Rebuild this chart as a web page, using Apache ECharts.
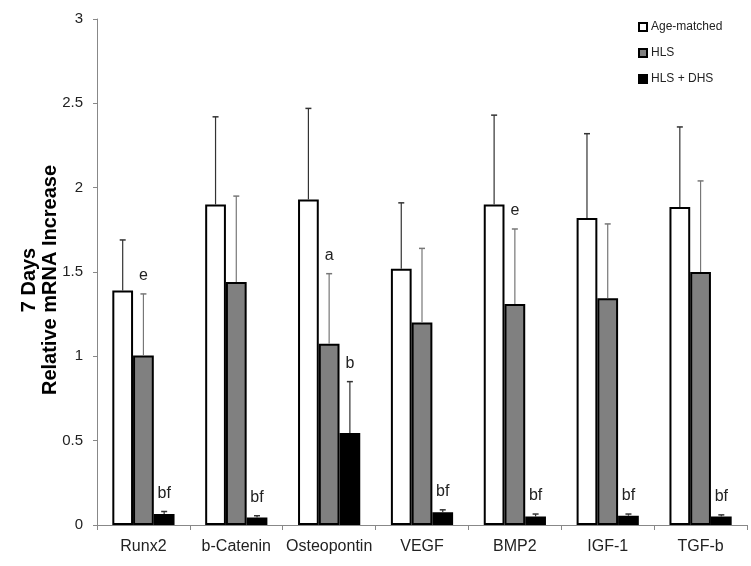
<!DOCTYPE html>
<html><head><meta charset="utf-8">
<script src="https://cdn.jsdelivr.net/npm/echarts@6/dist/echarts.min.js"></script>
<style>html,body{margin:0;padding:0;background:#fff}#c{width:751px;height:566px}</style>
</head><body><div id="c"></div>
<script>
var categories = ['Runx2','b-Catenin','Osteopontin','VEGF','BMP2','IGF-1','TGF-b'];
var seriesNames = ['Age-matched','HLS','HLS + DHS'];
var ageMatched = [1.39, 1.90, 1.93, 1.52, 1.90, 1.82, 1.885];
var ageMatchedErr = [0.30, 0.52, 0.54, 0.39, 0.53, 0.50, 0.475];
var hls = [1.005, 1.44, 1.075, 1.20, 1.31, 1.345, 1.50];
var hlsErr = [0.365, 0.51, 0.415, 0.44, 0.445, 0.44, 0.54];
var hlsDhs = [0.065, 0.045, 0.545, 0.075, 0.05, 0.055, 0.05];
var hlsDhsErr = [0.015, 0.01, 0.305, 0.015, 0.015, 0.01, 0.01];
var ageMatchedNotes = ['', '', '', '', '', '', ''];
var hlsNotes = ['e', '', 'a', '', 'e', '', ''];
var hlsDhsNotes = ['bf', 'bf', 'b', 'bf', 'bf', 'bf', 'bf'];
var yTicks = [0, 0.5, 1, 1.5, 2, 2.5, 3];

var chart = echarts.init(document.getElementById('c'));
var FONT = 'Liberation Sans, Arial, sans-serif';
var fills = ['#ffffff', '#808080', '#000000'];
var errColors = ['#333333', '#777777', '#333333'];
var vals = [ageMatched, hls, hlsDhs];
var errs = [ageMatchedErr, hlsErr, hlsDhsErr];
var notes = [ageMatchedNotes, hlsNotes, hlsDhsNotes];
var catGap = 0.33;

function errSeries(k) {
  var data = categories.map(function (c, i) { return [i, vals[k][i], vals[k][i] + errs[k][i]]; });
  return {
    type: 'custom', name: 'err' + k, z: 5, silent: true,
    data: data,
    renderItem: function (params, api) {
      var i = api.value(0);
      var base = api.coord([i, api.value(1)]);
      var top = api.coord([i, api.value(2)]);
      var cw = api.size([1, 0])[0];
      var bw = cw * (1 - catGap) / 3;
      var x = base[0] + (k - 1) * bw;
      var children = [
        { type: 'line', shape: { x1: x, y1: base[1], x2: x, y2: top[1] }, style: { stroke: errColors[k], lineWidth: 1.2 } },
        { type: 'line', shape: { x1: x - 3, y1: top[1], x2: x + 3, y2: top[1] }, style: { stroke: errColors[k], lineWidth: 1.5 } }
      ];
      var note = notes[k][i];
      if (note) {
        children.push({ type: 'text', style: { text: note, x: x, y: top[1] - 18, align: 'center', verticalAlign: 'middle', font: '16px ' + FONT, fill: '#222' } });
      }
      return { type: 'group', children: children };
    }
  };
}

var series = [];
for (var k = 0; k < 3; k++) {
  series.push({
    type: 'bar', name: seriesNames[k], data: vals[k],
    barGap: '0%', barCategoryGap: '33%',
    itemStyle: { color: fills[k], borderColor: '#000', borderWidth: 2 },
    emphasis: { disabled: true }
  });
}
for (var k2 = 0; k2 < 3; k2++) series.push(errSeries(k2));

chart.setOption({
  animation: false,
  backgroundColor: '#fff',
  grid: { left: 97, right: 4, top: 19, bottom: 41, containLabel: false, outerBoundsMode: 'none' },
  legend: {
    data: seriesNames, orient: 'vertical', left: 633, top: 16,
    itemWidth: 8, itemHeight: 8, itemGap: 14, icon: 'rect',
    textStyle: { fontFamily: FONT, fontSize: 12, color: '#222', padding: [0, 0, 0, -1] }
  },
  xAxis: {
    type: 'category', data: categories,
    axisLine: { lineStyle: { color: '#888', width: 1 } },
    axisTick: { show: true, length: 5, lineStyle: { color: '#888' } },
    axisLabel: { fontFamily: FONT, fontSize: 16, color: '#222', margin: 14, interval: 0 }
  },
  yAxis: {
    type: 'value', min: 0, max: 3, interval: 0.5,
    name: '7 Days\nRelative mRNA Increase', nameLocation: 'middle', nameGap: 36, nameRotate: 90,
    nameMoveOverlap: false,
    nameTextStyle: { fontFamily: FONT, fontSize: 20, fontWeight: 'bold', color: '#000', lineHeight: 21, padding: [0, 16, 0, 0] },
    splitLine: { show: false },
    axisLine: { show: true, lineStyle: { color: '#888', width: 1 } },
    axisTick: { show: true, length: 4, lineStyle: { color: '#888' } },
    axisLabel: { fontFamily: FONT, fontSize: 15, color: '#222', margin: 14,
      formatter: function (v) { return yTicks.indexOf(v) >= 0 ? String(v) : ''; } }
  },
  series: series
});
</script></body></html>
